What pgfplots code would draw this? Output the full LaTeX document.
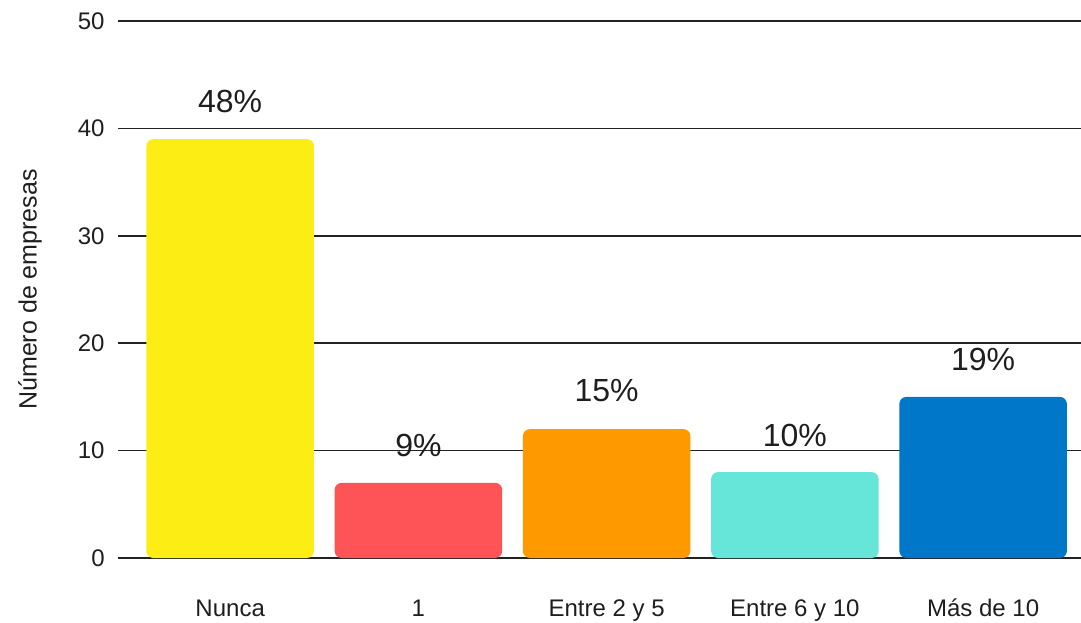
\documentclass[border=0pt]{standalone}
\usepackage{pgfplots}
\pgfplotsset{compat=1.18}
\usepackage{fontspec}
\setmainfont{Liberation Sans}
\definecolor{cNunca}{HTML}{FCEE15}
\definecolor{cUno}{HTML}{FF5457}
\definecolor{cDos}{HTML}{FF9900}
\definecolor{cSeis}{HTML}{66E5D9}
\definecolor{cMas}{HTML}{0077C8}
\definecolor{txt}{HTML}{1E1E1E}
\definecolor{gridc}{HTML}{222222}
\begin{document}
\begin{tikzpicture}
\useasboundingbox (-59pt,-32pt) rectangle (481.5pt,279pt);
\begin{axis}[
  scale only axis,
  width=481.5pt, height=268.5pt,
  at={(0,0)}, anchor=south west,
  ymin=0, ymax=50,
  xmin=-0.596, xmax=4.52,
  ytick={0,10,20,30,40,50},
  xtick={0,1,2,3,4},
  xticklabels={Nunca,1,Entre 2 y 5,Entre 6 y 10,Más de 10},
  axis line style={draw=none},
  major tick length=0pt,
  ymajorgrids=true, xmajorgrids=false,
  major grid style={draw=gridc, line width=0.75pt},
  /pgf/number format/assume math mode=true,
  tick label style={font=\fontsize{12}{14}\selectfont, text=txt},
  yticklabel style={anchor=east, inner sep=0pt, xshift=-6.5pt},
  xticklabel style={anchor=base, inner sep=0pt, yshift=-29pt},
  ylabel={Número de empresas},
  every axis y label/.style={at={(axis description cs:-0.0914,0.5)}, rotate=90, anchor=center, font=\fontsize{12.5}{14}\selectfont, text=txt},
  ybar, bar width=0.89, bar shift=0pt,
  clip=false,
]
\addplot[fill=cNunca, draw=none, rounded corners=3.5pt] coordinates {(0,39)};
\addplot[fill=cUno, draw=none, rounded corners=3.5pt] coordinates {(1,7)};
\addplot[fill=cDos, draw=none, rounded corners=3.5pt] coordinates {(2,12)};
\addplot[fill=cSeis, draw=none, rounded corners=3.5pt] coordinates {(3,8)};
\addplot[fill=cMas, draw=none, rounded corners=3.5pt] coordinates {(4,15)};
\node[font=\fontsize{16}{18}\selectfont, text=txt] at (axis cs:0,42.5) {48\%};
\node[font=\fontsize{16}{18}\selectfont, text=txt] at (axis cs:1,10.5) {9\%};
\node[font=\fontsize{16}{18}\selectfont, text=txt] at (axis cs:2,15.6) {15\%};
\node[font=\fontsize{16}{18}\selectfont, text=txt] at (axis cs:3,11.45) {10\%};
\node[font=\fontsize{16}{18}\selectfont, text=txt] at (axis cs:4,18.5) {19\%};
\end{axis}
\end{tikzpicture}
\end{document}
